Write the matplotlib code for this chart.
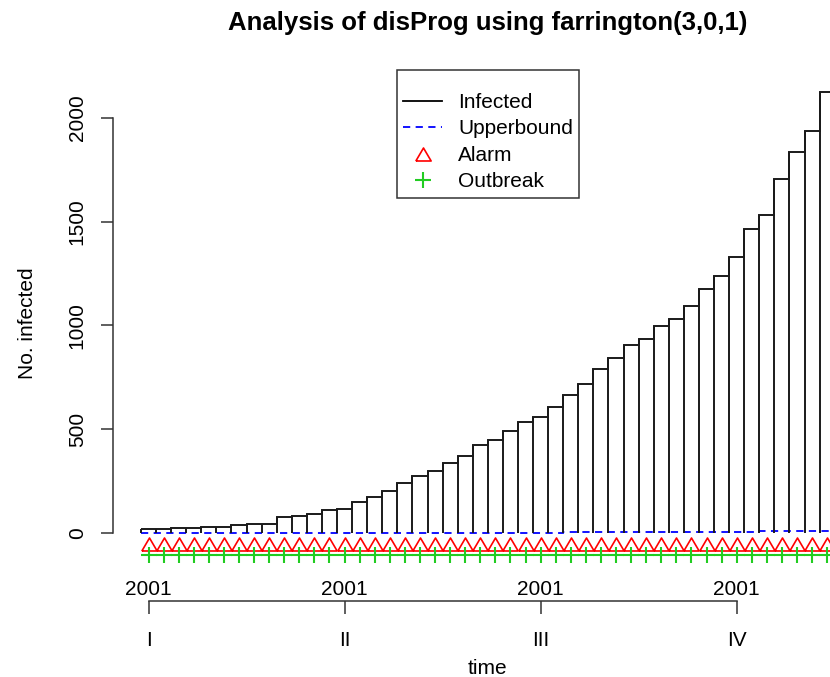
import matplotlib.pyplot as plt
import numpy as np
from matplotlib.lines import Line2D

plt.rcParams['font.family'] = ['Liberation Sans', 'DejaVu Sans']

# weekly counts from the farrington run
weeks = np.arange(1, 47)
infected = [18, 18, 24, 24, 30, 30, 38, 43, 43, 77, 83, 90, 109, 116, 149, 175,
            201, 241, 273, 299, 337, 371, 422, 450, 490, 535, 561, 606, 665, 718,
            789, 842, 906, 933, 998, 1031, 1096, 1178, 1238, 1330, 1467, 1532,
            1704, 1835, 1937, 2127]
upperbound = [1, 1, 1, 1, 1, 1, 1, 1, 1, 1, 1, 1, 1, 1, 1, 1, 1, 1, 1, 1, 1, 1,
              1, 1, 1, 1, 1, 1, 6, 6, 6, 6, 6, 6, 6, 6, 6, 6, 6, 6, 6, 11, 11,
              11, 11, 11]
alarm = [1, 1, 1, 1, 1, 1, 1, 1, 1, 1, 1, 1, 1, 1, 1, 1, 1, 1, 1, 1, 1, 1, 1,
         1, 1, 1, 1, 1, 1, 1, 1, 1, 1, 1, 1, 1, 1, 1, 1, 1, 1, 1, 1, 1, 1, 1]
outbreak = [1, 1, 1, 1, 1, 1, 1, 1, 1, 1, 1, 1, 1, 1, 1, 1, 1, 1, 1, 1, 1, 1, 1,
            1, 1, 1, 1, 1, 1, 1, 1, 1, 1, 1, 1, 1, 1, 1, 1, 1, 1, 1, 1, 1, 1, 1]

quarter_weeks = [1, 14, 27, 40]
quarter_years = ['2001', '2001', '2001', '2001']
quarter_labels = ['I', 'II', 'III', 'IV']

n = len(weeks)
ymax = max(infected)
alarm = np.array(alarm)
outbreak = np.array(outbreak)
fs = 15

fig = plt.figure(figsize=(8.3, 6.77), dpi=100)
ax = fig.add_axes([0.1364, 0.1529, 0.9027, 0.739])

# histogram-like outline: top steps plus a vertical line at every bar edge
edges = np.append(weeks - 0.5, weeks[-1] + 0.5)
edge_h = np.maximum(np.append(infected, 0), np.insert(infected, 0, 0))
ax.stairs(infected, edges, baseline=None, color='#1a1a1a', lw=1.4)
ax.vlines(edges, 0, edge_h, color='#1a1a1a', lw=1.4)

ax.stairs(upperbound, edges, baseline=None, color='blue', lw=1.3,
          ls=(0, (4, 3)))

tri = [(-1, -0.85), (1, -0.85), (0, 0.85), (-1, -0.85)]
ax.plot(weeks[alarm == 1], np.full((alarm == 1).sum(), -ymax / 40), ls='none',
        marker=tri, mfc='none', mec='red', ms=11, mew=1.2)
ax.plot(weeks[outbreak == 1], np.full((outbreak == 1).sum(), -ymax / 20),
        ls='none', marker='+', color='#22cc22', ms=11, mew=1.5)

# R-like 4% padding around the data range
pad_y = 0.04 * ymax * 1.05
ax.set_ylim(-ymax / 20 - pad_y, ymax + pad_y)
ax.set_xlim(0.5 - 0.04 * n, n + 0.5 + 0.04 * n)

for s in ['top', 'right']:
    ax.spines[s].set_visible(False)
ax.spines['left'].set_bounds(0, 2000)
ax.spines['bottom'].set_position(('outward', 19.6))
ax.spines['bottom'].set_bounds(quarter_weeks[0], quarter_weeks[-1])
for s in ['left', 'bottom']:
    ax.spines[s].set_color('#333333')
    ax.spines[s].set_linewidth(1.1)

ax.set_yticks([0, 500, 1000, 1500, 2000])
ax.tick_params(axis='y', length=9, width=1.1, color='#333333', labelsize=fs,
               labelrotation=90, pad=10)
for lab in ax.get_yticklabels():
    lab.set_va('center')
ax.set_xticks(quarter_weeks)
ax.set_xticklabels(quarter_labels)
ax.tick_params(axis='x', length=9, width=1.1, color='#333333', labelsize=fs,
               pad=12.8)

for w, yr in zip(quarter_weeks, quarter_years):
    ax.annotate(yr, xy=(w, 0), xycoords=('data', 'axes fraction'),
                xytext=(0, -15.5), textcoords='offset points', ha='center',
                va='baseline', fontsize=fs, annotation_clip=False)

ax.set_ylabel('No. infected', fontsize=fs)
ax.yaxis.set_label_coords(-0.1017, 0.5)
ax.set_xlabel('time', fontsize=fs)
ax.xaxis.set_label_coords(0.5, -0.170)

fig.text(0.5 * (0.1364 + 0.1364 + 0.9027), 1 - 23 / 677,
         'Analysis of disProg using farrington(3,0,1)', ha='center',
         va='center', fontsize=18.5, fontweight='bold')

handles = [
    Line2D([], [], color='black', lw=1.3),
    Line2D([], [], color='blue', lw=1.3, ls=(0, (4, 3))),
    Line2D([], [], ls='none', marker=tri, mfc='none', mec='red', ms=11,
           mew=1.2),
    Line2D([], [], ls='none', marker='+', color='#22cc22', ms=11, mew=1.5),
]
leg = ax.legend(handles, ['Infected', 'Upperbound', 'Alarm', 'Outbreak'],
                loc='upper center', bbox_to_anchor=(0.5, 1.006),
                borderaxespad=0, fontsize=fs, fancybox=False,
                edgecolor='#333333', framealpha=1, borderpad=0.3,
                labelspacing=0.36, handlelength=1.9, handletextpad=0.75,
                title=' ', title_fontsize=6.5)
leg.get_frame().set_linewidth(1.1)

fig.savefig('out.png', dpi=100)
